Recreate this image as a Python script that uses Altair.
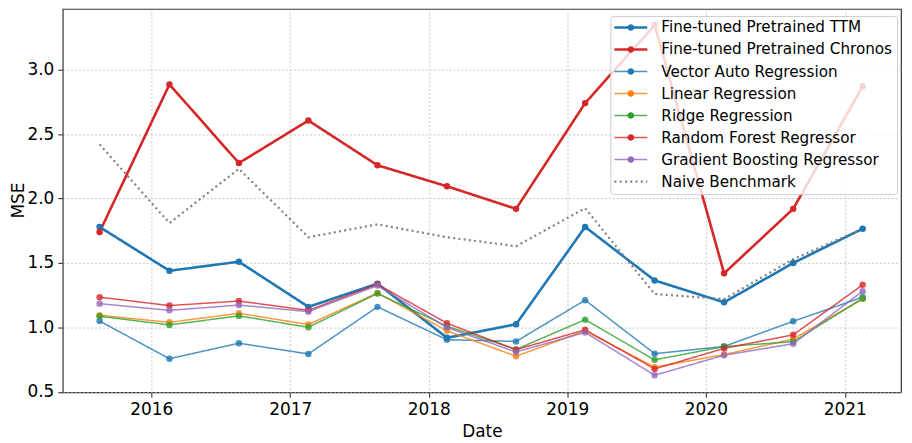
import altair as alt
import pandas as pd

dates = ["2015-08-18", "2016-02-18", "2016-08-19", "2017-02-18", "2017-08-19", "2018-02-18",
         "2018-08-19", "2019-02-17", "2019-08-19", "2020-02-18", "2020-08-18", "2021-02-17"]

series_names = [
    "Fine-tuned Pretrained TTM",
    "Fine-tuned Pretrained Chronos",
    "Vector Auto Regression",
    "Linear Regression",
    "Ridge Regression",
    "Random Forest Regressor",
    "Gradient Boosting Regressor",
    "Naive Benchmark",
]

ttm = [1.78, 1.44, 1.51, 1.16, 1.34, 0.92, 1.025, 1.78, 1.365, 1.195, 1.50, 1.766]
chronos = [1.74, 2.885, 2.275, 2.605, 2.258, 2.095, 1.92, 2.74, 3.345, 1.42, 1.92, 2.87]
var = [1.05, 0.758, 0.878, 0.795, 1.16, 0.905, 0.892, 1.212, 0.797, 0.853, 1.048, 1.235]
linreg = [1.095, 1.04, 1.11, 1.023, 1.268, 0.974, 0.777, 0.974, 0.692, 0.79, 0.91, 1.222]
ridge = [1.087, 1.02, 1.09, 1.002, 1.264, 1.01, 0.83, 1.061, 0.749, 0.852, 0.89, 1.225]
rf = [1.235, 1.17, 1.205, 1.133, 1.335, 1.033, 0.828, 0.982, 0.679, 0.838, 0.943, 1.331]
gb = [1.185, 1.133, 1.174, 1.123, 1.325, 1.0, 0.81, 0.962, 0.63, 0.785, 0.874, 1.282]
naive = [2.42, 1.81, 2.23, 1.70, 1.80, 1.70, 1.63, 1.925, 1.26, 1.22, 1.53, 1.765]

colors = ["#1f77b4", "#d62728", "#1f77b4", "#ff7f0e", "#2ca02c", "#d62728", "#9467bd", "#808080"]
widths = [2.6, 2.6, 1.5, 1.5, 1.5, 1.5, 1.5, 2.2]
dashes = [[1, 0]] * 7 + [[2, 3.3]]
alphas = [1, 1, 0.8, 0.8, 0.8, 0.8, 0.8, 1]

all_values = [ttm, chronos, var, linreg, ridge, rf, gb, naive]
rows = []
for name, vals in zip(series_names, all_values):
    for d, v in zip(dates, vals):
        rows.append({"date": d, "mse": v, "series": name})
df = pd.DataFrame(rows)

marker_names = series_names[:7]
marker_colors = colors[:7]
marker_alphas = alphas[:7]

font = "DejaVu Sans"

x_enc = alt.X(
    "date:T",
    title="Date",
    scale=alt.Scale(
        type="utc",
        domain=[alt.DateTime(year=2015, month=5, date=13, utc=True),
                alt.DateTime(year=2021, month=5, date=29, utc=True)],
    ),
    axis=alt.Axis(
        values=[alt.DateTime(year=y, month=1, date=1, utc=True) for y in range(2016, 2022)],
        format="%Y",
        labelFontSize=17,
        labelPadding=4,
        tickSize=5,
        titleFontSize=17,
        titleFontWeight="normal",
        titleBaseline="alphabetic",
        titleY=44,
    ),
)
y_enc = alt.Y(
    "mse:Q",
    title="MSE",
    scale=alt.Scale(domain=[0.4977, 3.470], nice=False, zero=False),
    axis=alt.Axis(
        values=[0.5, 1.0, 1.5, 2.0, 2.5, 3.0],
        format=".1f",
        labelFontSize=17,
        labelPadding=4,
        tickSize=5,
        titleFontSize=17,
        titleFontWeight="normal",
        titleBaseline="alphabetic",
        titleAlign="center",
        titleAngle=270,
        titleX=-39,
        titleY=192,
    ),
)

line_path = "M-1.25,0L4.25,0"
circle_path = "M0.94,0A0.56,0.56,0,1,1,2.06,0A0.56,0.56,0,1,1,0.94,0Z"

common_legend = dict(
    title=None,
    orient="none",
    legendX=550,
    legendY=7,
    padding=4,
    labelFontSize=15.25,
    labelLimit=400,
    labelOffset=32,
    symbolSize=144,
    rowPadding=6.1,
)

line_legend = alt.Legend(
    labelColor="#000000",
    fillColor="rgba(255,255,255,0.8)",
    strokeColor="#cccccc",
    cornerRadius=3,
    symbolType=line_path,
    **common_legend,
)
marker_legend = alt.Legend(
    labelOpacity=0,
    symbolType=circle_path,
    symbolStrokeWidth=0,
    **common_legend,
)

lines = alt.Chart(df).mark_line().encode(
    x=x_enc,
    y=y_enc,
    color=alt.Color("series:N", scale=alt.Scale(domain=series_names, range=colors), legend=line_legend),
    strokeWidth=alt.StrokeWidth("series:N", scale=alt.Scale(type="ordinal", domain=series_names, range=widths), legend=line_legend),
    strokeDash=alt.StrokeDash("series:N", scale=alt.Scale(domain=series_names, range=dashes), legend=line_legend),
    opacity=alt.Opacity("series:N", scale=alt.Scale(type="ordinal", domain=series_names, range=alphas), legend=line_legend),
)

points = alt.Chart(df).mark_circle(size=42, opacity=1).encode(
    x=x_enc,
    y=y_enc,
    fill=alt.Fill("series:N", scale=alt.Scale(domain=marker_names, range=marker_colors), legend=marker_legend),
    fillOpacity=alt.FillOpacity("series:N", scale=alt.Scale(type="ordinal", domain=marker_names, range=marker_alphas), legend=marker_legend),
).transform_filter(alt.datum.series != "Naive Benchmark")

chart = alt.layer(lines, points).properties(
    width=842,
    height=385,
    autosize=alt.AutoSizeParams(type="none"),
    padding={"left": 55, "top": 0, "right": 3, "bottom": 55},
).configure(font=font).configure_view(
    stroke="#333333", strokeWidth=1.2
).configure_axis(
    domain=False,
    grid=True,
    gridColor="#b8b8b8",
    gridDash=[2, 2],
    gridWidth=0.8,
    tickColor="#222222",
    labelColor="#000000",
    titleColor="#000000",
    labelFont=font,
    titleFont=font,
).configure_legend(labelFont=font)

chart.save("out.html", embed_options={"renderer": "svg", "actions": False})
